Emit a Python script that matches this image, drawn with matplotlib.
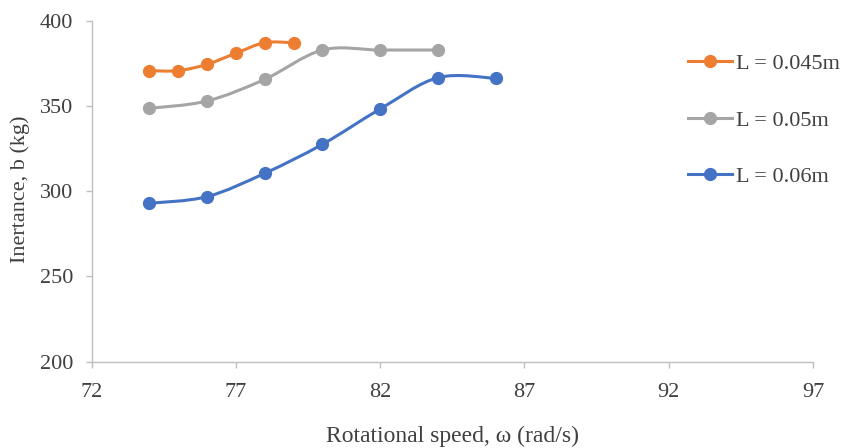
import matplotlib
matplotlib.use("Agg")
import matplotlib.pyplot as plt
from matplotlib.path import Path
from matplotlib.patches import PathPatch
from matplotlib.lines import Line2D

# data
speed_045 = [74, 75, 76, 77, 78, 79]
inert_045 = [370.7, 370.7, 374.4, 380.9, 387.1, 387.1]

speed_05 = [74, 76, 78, 80, 82, 84]
inert_05 = [348.6, 352.9, 365.6, 382.8, 382.8, 382.8]

speed_06 = [74, 76, 78, 80, 82, 84, 86]
inert_06 = [292.9, 296.8, 310.5, 327.5, 348.2, 366.6, 366.2]

labels = ["L = 0.045m", "L = 0.05m", "L = 0.06m"]
colors = ["#ED7D31", "#A5A5A5", "#4472C4"]

plt.rcParams["font.family"] = ["Liberation Serif", "DejaVu Serif"]


def smooth_path(xs, ys):
    # Excel-like smoothed line: cubic bezier through the points (Catmull-Rom, tension 1/6)
    pts = list(zip(xs, ys))
    n = len(pts)
    verts = [pts[0]]
    codes = [Path.MOVETO]
    for i in range(n - 1):
        p0 = pts[i - 1] if i > 0 else pts[i]
        p1 = pts[i]
        p2 = pts[i + 1]
        p3 = pts[i + 2] if i + 2 < n else pts[i + 1]
        c1 = (p1[0] + (p2[0] - p0[0]) / 6, p1[1] + (p2[1] - p0[1]) / 6)
        c2 = (p2[0] - (p3[0] - p1[0]) / 6, p2[1] - (p3[1] - p1[1]) / 6)
        verts += [c1, c2, p2]
        codes += [Path.CURVE4] * 3
    return Path(verts, codes)


fig = plt.figure(figsize=(8.42, 4.48), dpi=100)
ax = fig.add_axes([0.1087, 0.1926, 0.8569, 0.7612])

series = [(speed_045, inert_045), (speed_05, inert_05), (speed_06, inert_06)]
handles = []
for (xs, ys), lab, col in zip(series, labels, colors):
    ax.add_patch(PathPatch(smooth_path(xs, ys), facecolor="none", edgecolor=col,
                           lw=2.2, capstyle="round", zorder=2))
    ax.plot(xs, ys, ls="none", marker="o", ms=8.5, color=col, zorder=3)
    handles.append(Line2D([], [], color=col, lw=2.2, marker="o", ms=8.5))

ax.set_xlim(72, 97)
ax.set_ylim(200, 400)
ax.set_xticks([72, 77, 82, 87, 92, 97])
ax.set_yticks([200, 250, 300, 350, 400])

for s in ["top", "right"]:
    ax.spines[s].set_visible(False)
for s in ["left", "bottom"]:
    ax.spines[s].set_color("#BFBFBF")
    ax.spines[s].set_linewidth(1.0)
ax.tick_params(axis="both", colors="#BFBFBF", labelcolor="#404040",
               labelsize=16, length=4.5, width=1.0)
ax.tick_params(axis="x", pad=10.5)
ax.tick_params(axis="y", pad=8.5)

fig.text(0.0238, 0.578, "Inertance, b (kg)", rotation=90, ha="center", va="center",
         fontsize=16, color="#404040")
fig.text(0.537, 0.025, "Rotational speed, \u03c9 (rad/s)", ha="center", va="center",
         fontsize=17, color="#404040")

leg = fig.legend(handles, labels, loc="upper left", bbox_to_anchor=(0.806, 0.90),
                 frameon=False, fontsize=16, handlelength=2.0, handletextpad=0.18,
                 labelspacing=1.61, borderaxespad=0)
for t in leg.get_texts():
    t.set_color("#404040")

fig.savefig("out.png", dpi=100)
